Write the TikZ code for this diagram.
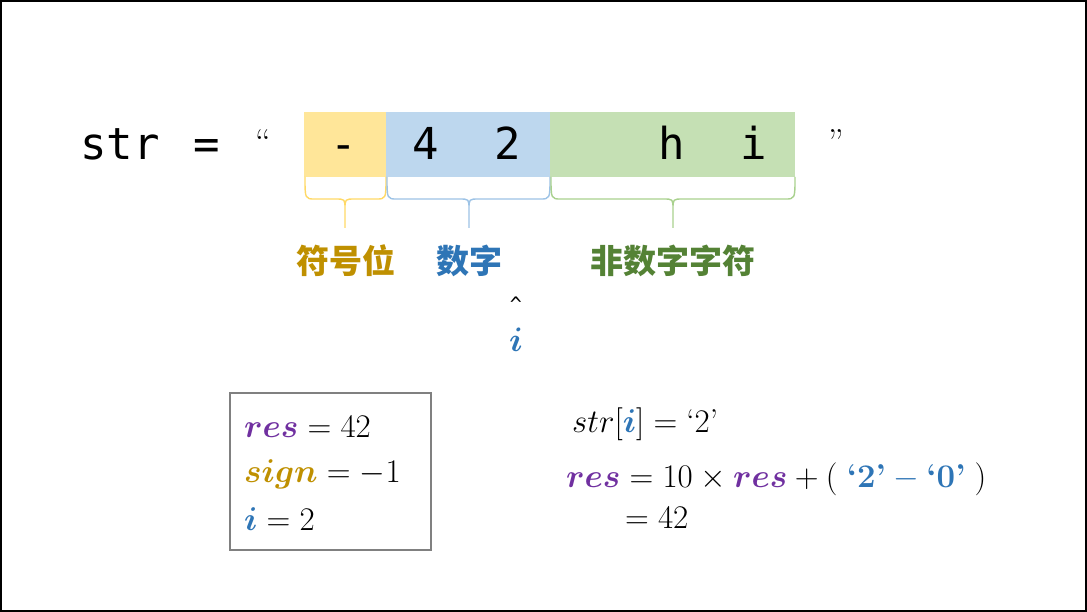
\RequirePackage{fix-cm}
\documentclass[tikz,border=0pt]{standalone}
\usepackage{amsmath,bm}
\usepackage{fontspec}
\newfontfamily\mono{DejaVu Sans Mono}
\newfontfamily\cjk{Noto Sans CJK SC}
\definecolor{cyel}{HTML}{FFE699}
\definecolor{cblu}{HTML}{BDD7EE}
\definecolor{cgrn}{HTML}{C5E0B4}
\definecolor{byel}{HTML}{FFD966}
\definecolor{bblu}{HTML}{9DC3E6}
\definecolor{bgrn}{HTML}{A9D18E}
\definecolor{tgold}{HTML}{BF9000}
\definecolor{tblue}{HTML}{2E75B6}
\definecolor{tgreen}{HTML}{548235}
\definecolor{tpurp}{HTML}{7030A0}
\tikzset{
  cell/.style={inner sep=0pt, outer sep=0pt},
  ch/.style={font=\mono\fontsize{44}{50}\selectfont, inner sep=0pt, anchor=base},
  lab/.style={font=\cjk\bfseries\fontsize{33}{36}\selectfont, inner sep=0pt, anchor=base},
  mth/.style={font=\fontsize{33}{38}\selectfont, inner sep=0pt, anchor=base west},
  brc/.style={line width=1.4pt, line join=round}
}
\begin{document}
\begin{tikzpicture}[x=1pt,y=-1pt]
\useasboundingbox (0,0) rectangle (1087,612);
\fill[white] (0,0) rectangle (1087,612);
\draw[line width=2pt] (1,1) rectangle (1086,611);
% cells
\fill[cyel] (304,112) rectangle (386,177);
\fill[cblu] (386,112) rectangle (550,177);
\fill[cgrn] (550,112) rectangle (795,177);
\node[cell] (cy) at (345,144.5) {};
\node[cell] (cb) at (468,144.5) {};
\node[cell] (cg) at (672.5,144.5) {};
% text
\node[ch, anchor=base west] (str) at (80,160) {str};
\node[ch] (eq) at (207,160) {=};
\node[font=\fontsize{36}{40}\selectfont, inner sep=0pt] (lq) at (263,142) {“};
\node[font=\fontsize{36}{40}\selectfont, inner sep=0pt] (rq) at (836,142) {”};
\node[ch] (c1) at (344,160) {-};
\node[ch] (c2) at (426,160) {4};
\node[ch] (c3) at (508,160) {2};
\node[ch] (c5) at (672,160) {h};
\node[ch] (c6) at (754,160) {i};
% braces
\draw[brc, byel] (305,177) .. controls (305,199) and (305,199) .. (315,199) -- (335,199) .. controls (345,199) and (345,199) .. (345,209) -- (345,228)
   (345,209) .. controls (345,199) and (345,199) .. (355,199) -- (376,199) .. controls (386,199) and (386,199) .. (386,177);
\draw[brc, bblu] (387,177) .. controls (387,199) and (387,199) .. (397,199) -- (459,199) .. controls (469,199) and (469,199) .. (469,209) -- (469,228)
   (469,209) .. controls (469,199) and (469,199) .. (479,199) -- (540,199) .. controls (550,199) and (550,199) .. (550,177);
\draw[brc, bgrn] (551,177) .. controls (551,199) and (551,199) .. (561,199) -- (663,199) .. controls (673,199) and (673,199) .. (673,209) -- (673,228)
   (673,209) .. controls (673,199) and (673,199) .. (683,199) -- (785,199) .. controls (795,199) and (795,199) .. (795,177);
% labels
\node[lab, text=tgold] (l1) at (346,274) {符号位};
\node[lab, text=tblue] (l2) at (469,274) {数字};
\node[lab, text=tgreen] (l3) at (673,274) {非数字字符};
\node[font=\mono\fontsize{20}{22}\selectfont, inner sep=0pt] (caret) at (516,304) {\^{}};
\node[font=\fontsize{34}{38}\selectfont, inner sep=0pt, anchor=base] (iv) at (516,351) {$\color{tblue}\bm{i}$};
% state box
\draw[line width=1.5pt, draw=black!50] (230,393) rectangle (431,550);
\node[mth] (v1) at (244,437) {$\color{tpurp}\bm{res}\color{black} = 42$};
\node[mth] (v2) at (244,482) {$\color{tgold}\bm{sign}\color{black} = -1$};
\node[mth] (v3) at (244,530) {$\color{tblue}\bm{i}\color{black} = 2$};
% formulas
\node[mth] (f1) at (572,432) {$str[\color{tblue}\bm{i}\color{black}] = \text{‘2’}$};
\node[mth] (f2) at (566,487) {$\color{tpurp}\bm{res}\color{black} = 10\times \color{tpurp}\bm{res}\color{black} + (\;\color{tblue}\textbf{‘2’} - \textbf{‘0’}\color{black}\;)$};
\node[mth] (f3) at (625,528) {$= 42$};
\end{tikzpicture}
\end{document}
